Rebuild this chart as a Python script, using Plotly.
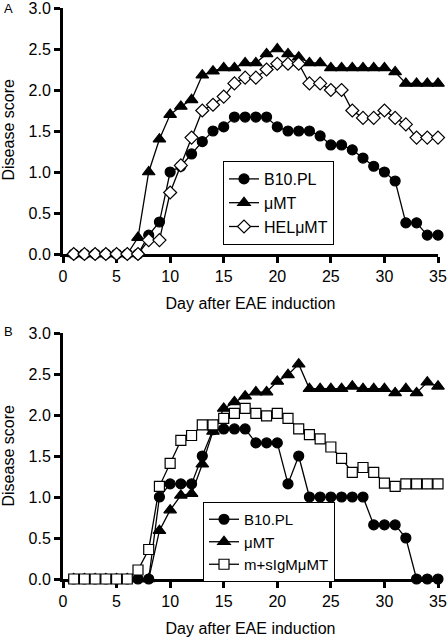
import plotly.graph_objects as go

days = list(range(1, 36))

# Panel A
a_b10pl = [0, 0, 0, 0, 0, 0, 0, 0.23, 0.39, 1.0, 1.07, 1.22, 1.37, 1.5, 1.55, 1.67, 1.67, 1.67, 1.67,
           1.55, 1.5, 1.5, 1.5, 1.44, 1.33, 1.33, 1.27, 1.17, 1.07, 1.0, 0.89, 0.38, 0.38, 0.23, 0.23]
a_mumt = [0, 0, 0, 0, 0, 0, 0.2, 1.0, 1.4, 1.7, 1.8, 1.88, 2.18, 2.23, 2.27, 2.27, 2.33, 2.33, 2.44,
          2.5, 2.44, 2.4, 2.33, 2.33, 2.27, 2.27, 2.27, 2.27, 2.27, 2.27, 2.22, 2.08, 2.08, 2.08, 2.08]
a_helmumt = [0, 0, 0, 0, 0, 0, 0, 0.17, 0.17, 0.75, 1.08, 1.42, 1.75, 1.82, 1.92, 2.08, 2.15, 2.15, 2.25,
             2.32, 2.32, 2.32, 2.08, 2.08, 2.0, 2.0, 1.75, 1.66, 1.66, 1.75, 1.66, 1.58, 1.42, 1.42, 1.42]

# Panel B
b_b10pl = [0, 0, 0, 0, 0, 0, 0, 0, 1.0, 1.16, 1.16, 1.16, 1.5, 1.82, 1.83, 1.83, 1.83, 1.66, 1.66,
           1.66, 1.16, 1.5, 1.0, 1.0, 1.0, 1.0, 1.0, 1.0, 0.66, 0.66, 0.66, 0.5, 0, 0, 0]
b_mumt = [0, 0, 0, 0, 0, 0, 0, 0, 0.59, 0.84, 1.02, 1.04, 1.4, 1.8, 2.08, 2.16, 2.23, 2.28, 2.28,
          2.41, 2.49, 2.62, 2.32, 2.32, 2.32, 2.32, 2.35, 2.32, 2.32, 2.32, 2.27, 2.32, 2.27, 2.4, 2.35]
b_msigm = [0, 0, 0, 0, 0, 0, 0.11, 0.36, 1.13, 1.41, 1.69, 1.75, 1.88, 1.88, 1.96, 2.02, 2.08, 2.02, 1.99,
           2.02, 1.96, 1.83, 1.76, 1.71, 1.61, 1.47, 1.3, 1.36, 1.3, 1.17, 1.13, 1.16, 1.16, 1.16, 1.16]

y_ticks = [0, 0.5, 1.0, 1.5, 2.0, 2.5, 3.0]
y_ticklabels = ["0.0", "0.5", "1.0", "1.5", "2.0", "2.5", "3.0"]
x_ticks = [0, 5, 10, 15, 20, 25, 30, 35]

FONT = "Arial, Liberation Sans, Helvetica, sans-serif"
W, H = 447, 640

fig = go.Figure()

def add(x, y, name, symbol, color, xa, ya, legend):
    fig.add_trace(go.Scatter(
        x=x, y=y, name=name, mode="lines+markers",
        line=dict(color="black", width=1.3),
        marker=dict(symbol=symbol, size=10 if "triangle" not in symbol else 11,
                    color=color, line=dict(color="black", width=1.2)),
        xaxis=xa, yaxis=ya, legend=legend, cliponaxis=False))

add(days, a_b10pl, "B10.PL", "circle", "black", "x", "y", "legend")
add(days, a_mumt, "μMT", "triangle-up", "black", "x", "y", "legend")
add(days, a_helmumt, "HELμMT", "diamond", "white", "x", "y", "legend")

add(days, b_b10pl, "B10.PL", "circle", "black", "x2", "y2", "legend2")
add(days, b_mumt, "μMT", "triangle-up", "black", "x2", "y2", "legend2")
add(days, b_msigm, "m+sIgMμMT", "square", "white", "x2", "y2", "legend2")

xdom = [63 / W, 438 / W]
ydomA = [1 - 254 / H, 1 - 8 / H]
ydomB = [1 - 579 / H, 1 - 333 / H]

axis_common = dict(showline=True, linecolor="black", linewidth=3, ticks="outside",
                   ticklen=6, tickwidth=2.5, tickcolor="black", showgrid=False, zeroline=False,
                   tickfont=dict(family=FONT, size=16, color="black"), layer="below traces",
                   automargin=False, ticklabeloverflow="allow")

xa = dict(axis_common, range=[0, 35], tickvals=x_ticks,
          title=dict(text="Day after EAE induction", font=dict(family=FONT, size=16, color="black"), standoff=14))
ya = dict(axis_common, range=[0, 3], tickvals=y_ticks, ticktext=y_ticklabels)

title_font = dict(family=FONT, size=16, color="black")

fig.update_layout(
    width=W, height=H,
    margin=dict(l=0, r=0, t=0, b=0, autoexpand=False),
    paper_bgcolor="white", plot_bgcolor="white",
    showlegend=True,
    xaxis=dict(xa, domain=xdom, anchor="y"),
    yaxis=dict(ya, domain=ydomA, anchor="x"),
    xaxis2=dict(xa, domain=xdom, anchor="y2"),
    yaxis2=dict(ya, domain=ydomB, anchor="x2"),
    legend=dict(x=223 / W, y=1 - 161 / H, xanchor="left", yanchor="top",
                bordercolor="black", borderwidth=1, bgcolor="white",
                font=dict(family=FONT, size=16, color="black"), tracegroupgap=0,
                itemwidth=30),
    legend2=dict(x=203 / W, y=1 - 502 / H, xanchor="left", yanchor="top",
                 bordercolor="black", borderwidth=1, bgcolor="white",
                 font=dict(family=FONT, size=15, color="black"), tracegroupgap=0,
                 itemwidth=30),
    annotations=[
        dict(text="A", x=0, y=1, xref="paper", yref="paper", xanchor="left", yanchor="top",
             showarrow=False, font=dict(family=FONT, size=13, color="black"), xshift=2, yshift=1),
        dict(text="B", x=0, y=1 - 322 / H, xref="paper", yref="paper", xanchor="left", yanchor="top",
             showarrow=False, font=dict(family=FONT, size=13, color="black"), xshift=2),
        dict(text="Disease score", x=7.5 / W, y=1 - 130 / H, xref="paper", yref="paper",
             xanchor="center", yanchor="middle", textangle=-90, showarrow=False, font=title_font),
        dict(text="Disease score", x=7.5 / W, y=1 - 456 / H, xref="paper", yref="paper",
             xanchor="center", yanchor="middle", textangle=-90, showarrow=False, font=title_font),
    ],
)

fig.write_html("out.html", config={"displayModeBar": False},
               post_script="document.body.style.margin='0';document.body.style.overflow='hidden';")
